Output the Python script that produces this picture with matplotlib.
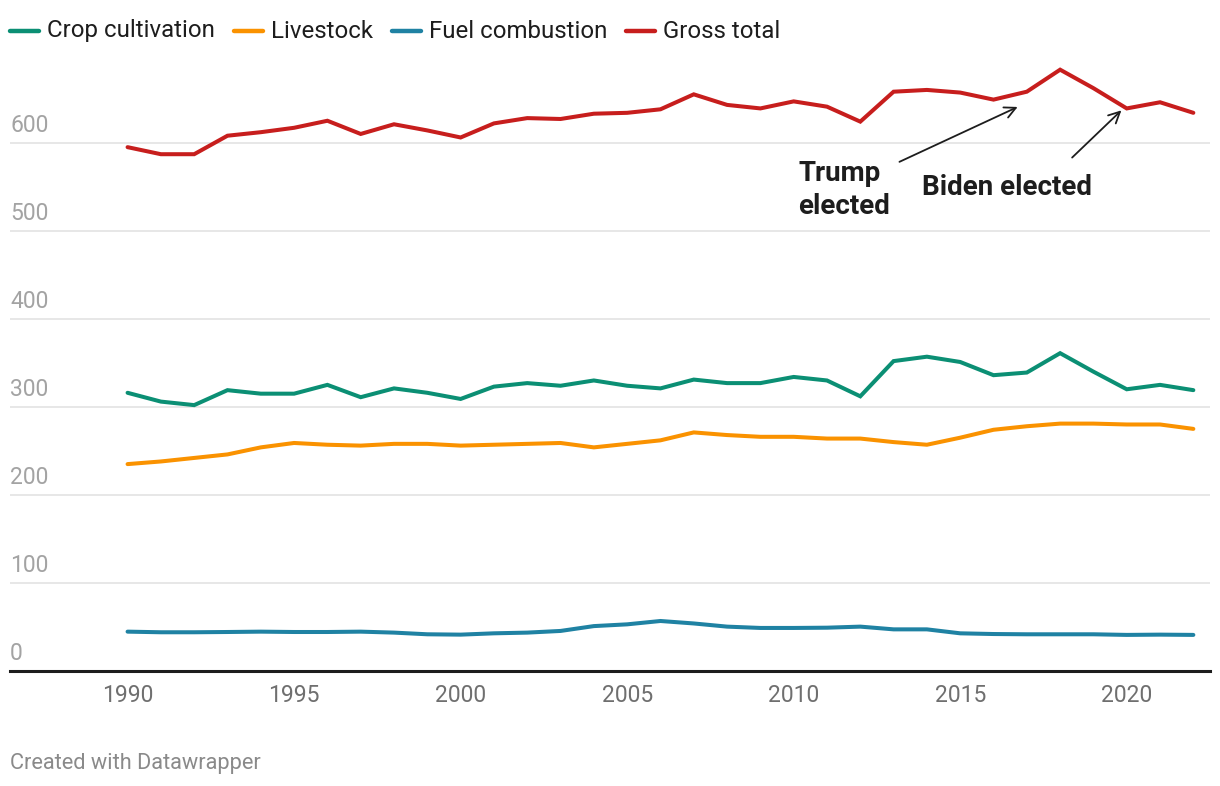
import matplotlib
matplotlib.use("Agg")
import matplotlib.pyplot as plt

plt.rcParams['font.family'] = ['Roboto', 'DejaVu Sans']

# data
years = list(range(1990, 2023))
crop = [316, 306, 302, 319, 315, 315, 325, 311, 321, 316, 309, 323, 327, 324, 330, 324,
        321, 331, 327, 327, 334, 330, 312, 352, 357, 351, 336, 339, 361, 340, 320, 325, 319]
livestock = [235, 238, 242, 246, 254, 259, 257, 256, 258, 258, 256, 257, 258, 259, 254, 258,
             262, 271, 268, 266, 266, 264, 264, 260, 257, 265, 274, 278, 281, 281, 280, 280, 275]
fuel = [44.7, 44, 44, 44.3, 44.7, 44.3, 44.3, 44.7, 43.6, 41.7, 41.3, 42.8, 43.6, 45.5, 51, 53,
        56.8, 54, 50.4, 48.9, 48.9, 49.2, 50.4, 47.3, 47.3, 42.8, 42, 41.7, 41.7, 41.7, 41, 41.3, 41]
gross = [595, 587, 587, 608, 612, 617, 625, 610, 621, 614, 606, 622, 628, 627, 633, 634,
         638, 655, 643, 639, 647, 641, 624, 658, 660, 657, 649, 658, 683, 662, 639, 646, 634]

series_names = ['Crop cultivation', 'Livestock', 'Fuel combustion', 'Gross total']
series_values = [crop, livestock, fuel, gross]
colors = ['#0b8f74', '#fa9200', '#1f82a3', '#c71e1d']

y_ticks = [0, 100, 200, 300, 400, 500, 600]
x_ticks = [1990, 1995, 2000, 2005, 2010, 2015, 2020]

W, H = 1220, 786
fig = plt.figure(figsize=(W / 100, H / 100), dpi=100)
ax = fig.add_axes([10 / W, (H - 671) / H, 1200 / W, 611 / H])

for vals, c in zip(series_values, colors):
    ax.plot(years, vals, color=c, lw=2.9, solid_capstyle='round', solid_joinstyle='miter', zorder=3)

ax.set_xlim(1986.47, 2022.5)
ax.set_ylim(0, 694)

for v in y_ticks[1:]:
    ax.axhline(v, color='#e3e3e3', lw=1.2, zorder=1)
ax.axhline(0, color='#1d1d1d', lw=2.2, zorder=4, clip_on=False)

for v in y_ticks:
    ax.annotate(str(v), xy=(0, v), xycoords=('axes fraction', 'data'),
                xytext=(0, 4), textcoords='offset points',
                ha='left', va='bottom', fontsize=16.5, color='#a3a3a3')

ax.set_yticks([])
ax.set_xticks(x_ticks)
ax.set_xticklabels([str(x) for x in x_ticks], fontsize=16.5, color='#6f6f6f')
ax.tick_params(axis='x', length=0, pad=9)
for s in ax.spines.values():
    s.set_visible(False)

# annotations
ax.text(2010.14, 546, 'Trump\nelected', fontsize=20, fontweight='bold', color='#1d1d1d',
        ha='left', va='center', linespacing=1.3)
ax.annotate('', xy=(2016.8, 642), xytext=(2013.1, 577),
            arrowprops=dict(arrowstyle='->', color='#1d1d1d', lw=1.3, mutation_scale=20))
ax.text(2013.86, 549, 'Biden elected', fontsize=20, fontweight='bold', color='#1d1d1d',
        ha='left', va='center')
ax.annotate('', xy=(2019.9, 639), xytext=(2018.3, 581),
            arrowprops=dict(arrowstyle='->', color='#1d1d1d', lw=1.3, mutation_scale=20))

# legend drawn across the top
fig.canvas.draw()
renderer = fig.canvas.get_renderer()
x = 10
y = H - 31
for name, c in zip(series_names, colors):
    fig.add_artist(plt.Line2D([x / W, (x + 29) / W], [y / H, y / H], color=c, lw=3.2,
                              solid_capstyle='round', transform=fig.transFigure))
    t = fig.text((x + 37) / W, y / H, name, fontsize=17.3, color='#1d1d1d', ha='left', va='center')
    bb = t.get_window_extent(renderer)
    x = bb.x1 + 19

fig.text(10 / W, (H - 763) / H, 'Created with Datawrapper', fontsize=15.7, color='#8a8a8a',
         ha='left', va='center')

fig.savefig('out.png', dpi=100, facecolor='white')
